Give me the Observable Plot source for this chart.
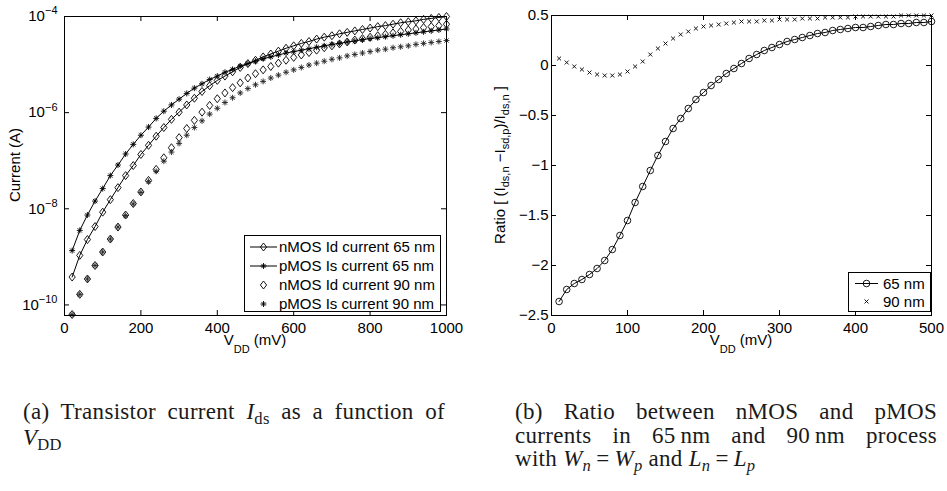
<!DOCTYPE html>
<html><head><meta charset="utf-8">
<script src="https://cdn.jsdelivr.net/npm/d3@7"></script>
<script src="https://cdn.jsdelivr.net/npm/@observablehq/plot@0.6"></script>
<style>
body{margin:0;background:#fff;}
#wrap{position:relative;width:947px;height:491px;overflow:hidden;background:#fff;}
.panel{position:absolute;top:0;}
.cap{position:absolute;width:422px;font-family:"Liberation Serif","Times New Roman",serif;font-size:23px;line-height:23.7px;color:#1a1a1a;letter-spacing:0.3px;}
.cap .j{text-align:justify;text-align-last:justify;}
.cap .sub{font-size:0.72em;position:relative;top:0.3em;font-style:normal;}
.cap .isub{font-size:0.72em;position:relative;top:0.3em;}
.cap .eq{margin:0 5px;}
</style>
</head><body>
<div id="wrap">
  <div id="pa" class="panel" style="left:0px"></div>
  <div id="pb" class="panel" style="left:470px"></div>
  <div class="cap" style="left:23px;top:400px">
    <div class="j">(a) Transistor current <i>I</i><span class="sub">ds</span> as a function of</div>
    <div><i>V</i><span class="sub">DD</span></div>
  </div>
  <div class="cap" style="left:515px;top:400px">
    <div class="j">(b) Ratio between nMOS and pMOS</div>
    <div class="j">currents in 65&#8201;nm and 90&#8201;nm process</div>
    <div>with <i>W<span class="isub">n</span></i><span class="eq">=</span><i>W<span class="isub">p</span></i> and <i>L<span class="isub">n</span></i><span class="eq">=</span><i>L<span class="isub">p</span></i></div>
  </div>
</div>
<script>
// ---------- Panel (a) data: V_DD (mV) and log10 of current (A) ----------
const vddA = [20,40,60,80,100,120,140,160,180,200,220,240,260,280,300,320,340,360,380,400,
  420,440,460,480,500,520,540,560,580,600,620,640,660,680,700,720,740,760,780,800,
  820,840,860,880,900,920,940,960,980,1000];
const nmos65Log = [-9.42,-8.97,-8.64,-8.37,-8.07,-7.81,-7.56,-7.31,-7.10,-6.87,-6.68,-6.49,-6.31,-6.14,-5.99,-5.84,-5.70,-5.56,-5.44,-5.33,
  -5.24,-5.15,-5.06,-4.98,-4.91,-4.84,-4.78,-4.72,-4.66,-4.61,-4.56,-4.52,-4.47,-4.43,-4.40,-4.36,-4.33,-4.30,-4.27,-4.24,
  -4.21,-4.19,-4.16,-4.13,-4.11,-4.09,-4.06,-4.04,-4.02,-4.00];
const pmos65Log = [-8.87,-8.45,-8.13,-7.84,-7.58,-7.31,-7.09,-6.86,-6.66,-6.47,-6.30,-6.12,-5.97,-5.84,-5.72,-5.60,-5.49,-5.40,-5.31,-5.24,
  -5.16,-5.10,-5.03,-4.98,-4.93,-4.88,-4.84,-4.80,-4.76,-4.73,-4.70,-4.67,-4.64,-4.61,-4.58,-4.56,-4.53,-4.51,-4.48,-4.46,
  -4.44,-4.42,-4.40,-4.38,-4.36,-4.34,-4.32,-4.30,-4.28,-4.26];
const nmos90Log = [-10.20,-9.78,-9.46,-9.18,-8.90,-8.63,-8.38,-8.13,-7.89,-7.65,-7.41,-7.18,-6.94,-6.73,-6.52,-6.33,-6.16,-5.99,-5.85,-5.71,
  -5.59,-5.48,-5.38,-5.28,-5.19,-5.11,-5.04,-4.97,-4.91,-4.85,-4.80,-4.75,-4.70,-4.65,-4.61,-4.57,-4.53,-4.49,-4.46,-4.43,
  -4.40,-4.37,-4.34,-4.31,-4.28,-4.26,-4.23,-4.21,-4.19,-4.16];
const pmos90Log = [-10.20,-9.78,-9.46,-9.18,-8.90,-8.63,-8.38,-8.14,-7.90,-7.66,-7.43,-7.22,-7.01,-6.82,-6.64,-6.47,-6.31,-6.17,-6.03,-5.91,
  -5.79,-5.69,-5.59,-5.50,-5.42,-5.35,-5.28,-5.22,-5.16,-5.11,-5.06,-5.01,-4.97,-4.93,-4.89,-4.86,-4.82,-4.79,-4.76,-4.73,
  -4.70,-4.68,-4.65,-4.63,-4.61,-4.58,-4.56,-4.54,-4.52,-4.50];
const seriesNamesA = ["nMOS Id current 65 nm","pMOS Is current 65 nm","nMOS Id current 90 nm","pMOS Is current 90 nm"];
const xTicksA = [0,200,400,600,800,1000];
const yTicksA = [1e-10,1e-8,1e-6,1e-4];

// ---------- Panel (b) data ----------
const vddB = [10,20,30,40,50,60,70,80,90,100,110,120,130,140,150,160,170,180,190,200,
  210,220,230,240,250,260,270,280,290,300,310,320,330,340,350,360,370,380,390,400,
  410,420,430,440,450,460,470,480,490,500];
const ratio65 = [-2.36,-2.24,-2.18,-2.14,-2.09,-2.03,-1.95,-1.84,-1.70,-1.55,-1.37,-1.21,-1.05,-0.90,-0.76,-0.63,-0.53,-0.43,-0.34,-0.27,
  -0.20,-0.14,-0.08,-0.03,0.02,0.07,0.11,0.15,0.18,0.21,0.24,0.26,0.28,0.30,0.32,0.33,0.35,0.36,0.37,0.38,
  0.38,0.39,0.40,0.41,0.41,0.42,0.42,0.43,0.43,0.44];
const ratio90 = [0.07,0.03,-0.01,-0.04,-0.07,-0.09,-0.10,-0.10,-0.09,-0.06,-0.01,0.04,0.11,0.17,0.22,0.27,0.31,0.34,0.37,0.39,
  0.40,0.41,0.42,0.43,0.44,0.44,0.44,0.45,0.45,0.46,0.46,0.46,0.47,0.47,0.47,0.48,0.48,0.48,0.48,0.49,
  0.49,0.49,0.49,0.49,0.49,0.50,0.50,0.50,0.50,0.50];
const seriesNamesB = ["65 nm","90 nm"];
const xTicksB = [0,100,200,300,400,500];
const yTicksB = [-2.5,-2,-1.5,-1,-0.5,0,0.5];

// ---------- symbols ----------
const diamondSym = {draw(c, s){const r=Math.sqrt(s/Math.PI);const w=r*0.78;c.moveTo(0,-r);c.lineTo(w,0);c.lineTo(0,r);c.lineTo(-w,0);c.closePath();}};
const starSym = {draw(c, s){const r=Math.sqrt(s/Math.PI);const d=r*0.7071;c.moveTo(-r,0);c.lineTo(r,0);c.moveTo(0,-r);c.lineTo(0,r);c.moveTo(-d,-d);c.lineTo(d,d);c.moveTo(-d,d);c.lineTo(d,-d);}};
const timesSym = {draw(c, s){const r=Math.sqrt(s/Math.PI)*0.7071;c.moveTo(-r,-r);c.lineTo(r,r);c.moveTo(-r,r);c.lineTo(r,-r);}};
const circleSym = {draw(c, s){const r=Math.sqrt(s/Math.PI);c.moveTo(r,0);c.arc(0,0,r,0,2*Math.PI);}};

const toRows = (xs, ys, f = d => d) => xs.map((x, i) => ({x, y: f(ys[i])}));
const pow10 = v => Math.pow(10, v);
const nmos65 = toRows(vddA, nmos65Log, pow10);
const pmos65 = toRows(vddA, pmos65Log, pow10);
const nmos90 = toRows(vddA, nmos90Log, pow10);
const pmos90 = toRows(vddA, pmos90Log, pow10);
const r65 = toRows(vddB, ratio65);
const r90 = toRows(vddB, ratio90);

const FONT = "'Liberation Sans', Arial, Helvetica, sans-serif";
const baseStyle = {fontFamily: FONT, fontSize: "15px", background: "white", color: "black", overflow: "visible"};

function boxTicks(xt, yt, pw, ph) {
  const L = 5;
  return [
    Plot.tickX(xt, {x: d => d, insetTop: ph - L, stroke: "black", strokeWidth: 1}),
    Plot.tickX(xt, {x: d => d, insetBottom: ph - L, stroke: "black", strokeWidth: 1}),
    Plot.tickY(yt, {y: d => d, insetRight: pw - L, stroke: "black", strokeWidth: 1}),
    Plot.tickY(yt, {y: d => d, insetLeft: pw - L, stroke: "black", strokeWidth: 1})
  ];
}

// ---------- Panel (a) ----------
const WA = 470, HA = 345, mlA = 64, mrA = 24, mtA = 16, mbA = 30;
const plotA = Plot.plot({
  width: WA, height: HA, marginLeft: mlA, marginRight: mrA, marginTop: mtA, marginBottom: mbA,
  style: baseStyle,
  x: {domain: [0, 1000], ticks: xTicksA, tickSize: 0, tickPadding: 7, label: null, tickFormat: d => String(d)},
  y: {type: "log", domain: [Math.pow(10, -10.22), 1e-4], ticks: yTicksA, tickSize: 0, tickPadding: 7, label: null,
      tickFormat: d => "10^\u2212" + Math.round(-Math.log10(d))},
  marks: [
    Plot.line(nmos65, {x: "x", y: "y", stroke: "black", strokeWidth: 1}),
    Plot.line(pmos65, {x: "x", y: "y", stroke: "black", strokeWidth: 1}),
    Plot.dot(nmos65, {x: "x", y: "y", symbol: diamondSym, r: 4, stroke: "black", fill: "none", strokeWidth: 0.9}),
    Plot.dot(pmos65, {x: "x", y: "y", symbol: starSym, r: 3, stroke: "black", fill: "none", strokeWidth: 0.9}),
    Plot.dot(nmos90, {x: "x", y: "y", symbol: diamondSym, r: 4, stroke: "black", fill: "none", strokeWidth: 0.9}),
    Plot.dot(pmos90, {x: "x", y: "y", symbol: starSym, r: 3, stroke: "#222", fill: "none", strokeWidth: 0.9}),
    ...boxTicks(xTicksA, yTicksA, WA - mlA - mrA, HA - mtA - mbA),
    Plot.frame({stroke: "black", strokeWidth: 1})
  ]
});
document.getElementById("pa").appendChild(plotA);

// ---------- Panel (b) ----------
const WB = 477, HB = 345, mlB = 81, mrB = 16, mtB = 15, mbB = 30;
const plotB = Plot.plot({
  width: WB, height: HB, marginLeft: mlB, marginRight: mrB, marginTop: mtB, marginBottom: mbB,
  style: baseStyle,
  x: {domain: [0, 500], ticks: xTicksB, tickSize: 0, tickPadding: 7, label: null, tickFormat: d => String(d)},
  y: {domain: [-2.5, 0.5], ticks: yTicksB, tickSize: 0, tickPadding: 3, label: null,
      tickFormat: d => (d < 0 ? "\u2212" : "") + String(Math.abs(d))},
  marks: [
    Plot.line(r65, {x: "x", y: "y", stroke: "black", strokeWidth: 1}),
    Plot.dot(r65, {x: "x", y: "y", symbol: circleSym, r: 3.3, stroke: "black", fill: "none", strokeWidth: 0.9}),
    Plot.dot(r90, {x: "x", y: "y", symbol: timesSym, r: 2.8, stroke: "black", fill: "none", strokeWidth: 0.9}),
    ...boxTicks(xTicksB, yTicksB, WB - mlB - mrB, HB - mtB - mbB),
    Plot.frame({stroke: "black", strokeWidth: 1})
  ]
});
document.getElementById("pb").appendChild(plotB);

// ---------- post-processing: superscripts, axis labels, legends ----------
d3.select(plotA).selectAll('g[aria-label="y-axis tick label"] text').each(function () {
  const t = this.textContent;
  if (!t.includes("^")) return;
  const [b, e] = t.split("^");
  const s = d3.select(this);
  s.text(null);
  s.append("tspan").text(b);
  s.append("tspan").attr("dy", "-0.62em").attr("font-size", "11px").text(e);
});

function richText(sel, parts, subShift) {
  let cur = 0;
  for (const [txt, sub] of parts) {
    const target = sub ? subShift : 0;
    const ts = sel.append("tspan").text(txt);
    if (target !== cur) ts.attr("dy", target - cur);
    if (sub) ts.attr("font-size", "11px");
    cur = target;
  }
}

function xLabel(svg, cx, y) {
  const t = d3.select(svg).append("text").attr("x", cx).attr("y", y)
    .attr("text-anchor", "middle").attr("font-family", FONT).attr("font-size", "15px").attr("fill", "black");
  richText(t, [["V", false], ["DD", true], [" (mV)", false]], 8);
}
xLabel(plotA, mlA + (WA - mlA - mrA) / 2, 345);
xLabel(plotB, mlB + (WB - mlB - mrB) / 2, 345);

d3.select(plotA).append("text").attr("transform", "translate(20,165) rotate(-90)")
  .attr("text-anchor", "middle").attr("font-family", FONT).attr("font-size", "15px").attr("fill", "black")
  .text("Current (A)");

{
  const t = d3.select(plotB).append("text").attr("transform", "translate(35,165) rotate(-90)")
    .attr("text-anchor", "middle").attr("font-family", FONT).attr("font-size", "15px").attr("fill", "black");
  richText(t, [["Ratio [ (I", false], ["ds,n", true], [" \u2212I", false], ["sd,p", true], [")/I", false], ["ds,n", true], [" ]", false]], 4);
}

function legend(svg, box, rows) {
  const g = d3.select(svg).append("g").attr("text-anchor", "start");
  g.append("rect").attr("x", box.x).attr("y", box.y).attr("width", box.w).attr("height", box.h)
    .attr("fill", "white").attr("stroke", "black").attr("stroke-width", 1);
  rows.forEach(r => {
    if (r.line) g.append("line").attr("x1", box.lx1).attr("x2", box.lx2).attr("y1", r.y).attr("y2", r.y)
      .attr("stroke", "black").attr("stroke-width", 1);
    g.append("path").attr("transform", `translate(${box.mx},${r.y})`)
      .attr("d", d3.symbol().type(r.sym).size(Math.PI * r.r * r.r)())
      .attr("fill", "none").attr("stroke", "black").attr("stroke-width", 0.9);
    g.append("text").attr("x", box.tx).attr("y", r.y).attr("dy", "0.35em").attr("text-anchor", "start")
      .attr("font-family", FONT).attr("font-size", "15px").attr("fill", "black").text(r.label);
  });
}
legend(plotA, {x: 244.5, y: 235.5, w: 196, h: 76, lx1: 250, lx2: 277, mx: 263.5, tx: 279},
  [
    {label: seriesNamesA[0], sym: diamondSym, r: 4, line: true, y: 247},
    {label: seriesNamesA[1], sym: starSym, r: 3, line: true, y: 266},
    {label: seriesNamesA[2], sym: diamondSym, r: 4, line: false, y: 285},
    {label: seriesNamesA[3], sym: starSym, r: 3, line: false, y: 304}
  ]);
legend(plotB, {x: 378.5, y: 272.5, w: 82, h: 39, lx1: 385, lx2: 408, mx: 396.5, tx: 413},
  [
    {label: seriesNamesB[0], sym: circleSym, r: 3.3, line: true, y: 283.5},
    {label: seriesNamesB[1], sym: timesSym, r: 2.8, line: false, y: 301.5}
  ]);
</script>
</body></html>
